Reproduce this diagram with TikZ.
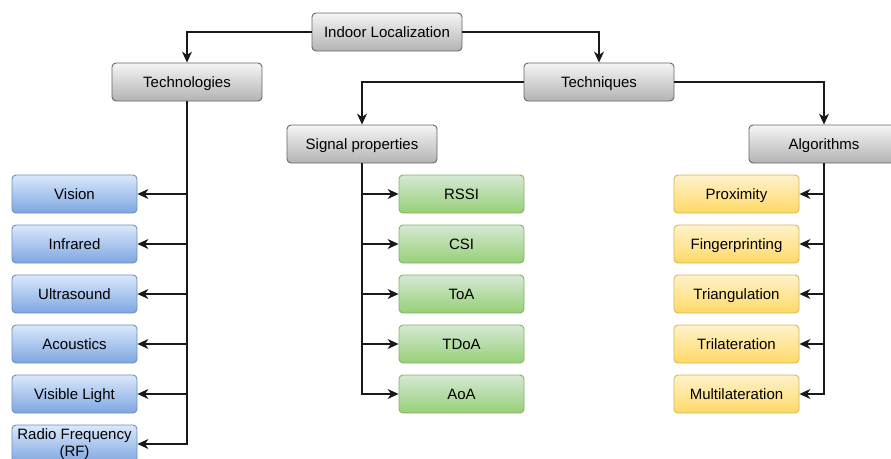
\documentclass[tikz,border=0pt]{standalone}
\usepackage{fontspec}
\setmainfont{Liberation Sans}
\usetikzlibrary{arrows.meta}
\definecolor{gtop}{HTML}{F5F5F5}
\definecolor{gbot}{HTML}{B3B3B3}
\definecolor{gstr}{HTML}{666666}
\definecolor{btop}{HTML}{DAE8FC}
\definecolor{bbot}{HTML}{7EA6E0}
\definecolor{bstr}{HTML}{6C8EBF}
\definecolor{ctop}{HTML}{D5E8D4}
\definecolor{cbot}{HTML}{97D077}
\definecolor{cstr}{HTML}{82B366}
\definecolor{ytop}{HTML}{FFF2CC}
\definecolor{ybot}{HTML}{FFD966}
\definecolor{ystr}{HTML}{D6B656}
\tikzset{
  box/.style={rounded corners=4pt, minimum height=38pt, inner sep=0pt, line width=0.9pt,
    font=\fontsize{15}{17}\selectfont, align=center, text height=12pt, text depth=2pt},
  graybox/.style={box, minimum width=150pt, draw=gstr, top color=gtop, bottom color=gbot},
  bluebox/.style={box, minimum width=125pt, draw=bstr, top color=btop, bottom color=bbot},
  greenbox/.style={box, minimum width=125pt, draw=cstr, top color=ctop, bottom color=cbot},
  yellowbox/.style={box, minimum width=125pt, draw=ystr, top color=ytop, bottom color=ybot},
  conn/.style={line width=1.2pt, draw=black!90, -{Stealth[length=11pt, width=10pt, inset=3.5pt]}},
}
\begin{document}
\begin{tikzpicture}[x=1pt, y=-1pt]
\useasboundingbox (0,0) rectangle (891,458);
\clip (0,0) rectangle (891,458);
% top levels
\node[graybox] (root) at (387,32) {Indoor Localization};
\node[graybox] (tech) at (187,82) {Technologies};
\node[graybox] (tq) at (599,82) {Techniques};
\node[graybox] (sig) at (362,144) {Signal properties};
\node[graybox] (alg) at (824,144) {Algorithms};
% blue
\node[bluebox] (b1) at (74.5,194) {Vision};
\node[bluebox] (b2) at (74.5,244) {Infrared};
\node[bluebox] (b3) at (74.5,294) {Ultrasound};
\node[bluebox] (b4) at (74.5,344) {Acoustics};
\node[bluebox] (b5) at (74.5,394) {Visible Light};
\node[bluebox, text height=, text depth=] (b6) at (74.5,444) {Radio Frequency\\(RF)};
% green
\node[greenbox] (g1) at (461.5,194) {RSSI};
\node[greenbox] (g2) at (461.5,244) {CSI};
\node[greenbox] (g3) at (461.5,294) {ToA};
\node[greenbox] (g4) at (461.5,344) {TDoA};
\node[greenbox] (g5) at (461.5,394) {AoA};
% yellow
\node[yellowbox] (y1) at (736.5,194) {Proximity};
\node[yellowbox] (y2) at (736.5,244) {Fingerprinting};
\node[yellowbox] (y3) at (736.5,294) {Triangulation};
\node[yellowbox] (y4) at (736.5,344) {Trilateration};
\node[yellowbox] (y5) at (736.5,394) {Multilateration};
% connectors
\draw[conn] (root.west) -| (tech.north);
\draw[conn] (root.east) -| (tq.north);
\draw[conn] (tq.west) -| (sig.north);
\draw[conn] (tq.east) -| (alg.north);
\foreach \n in {b1,b2,b3,b4,b5,b6}{\draw[conn] (tech.south) |- (\n.east);}
\foreach \n in {g1,g2,g3,g4,g5}{\draw[conn] (sig.south) |- (\n.west);}
\foreach \n in {y1,y2,y3,y4,y5}{\draw[conn] (alg.south) |- (\n.east);}
\end{tikzpicture}
\end{document}
